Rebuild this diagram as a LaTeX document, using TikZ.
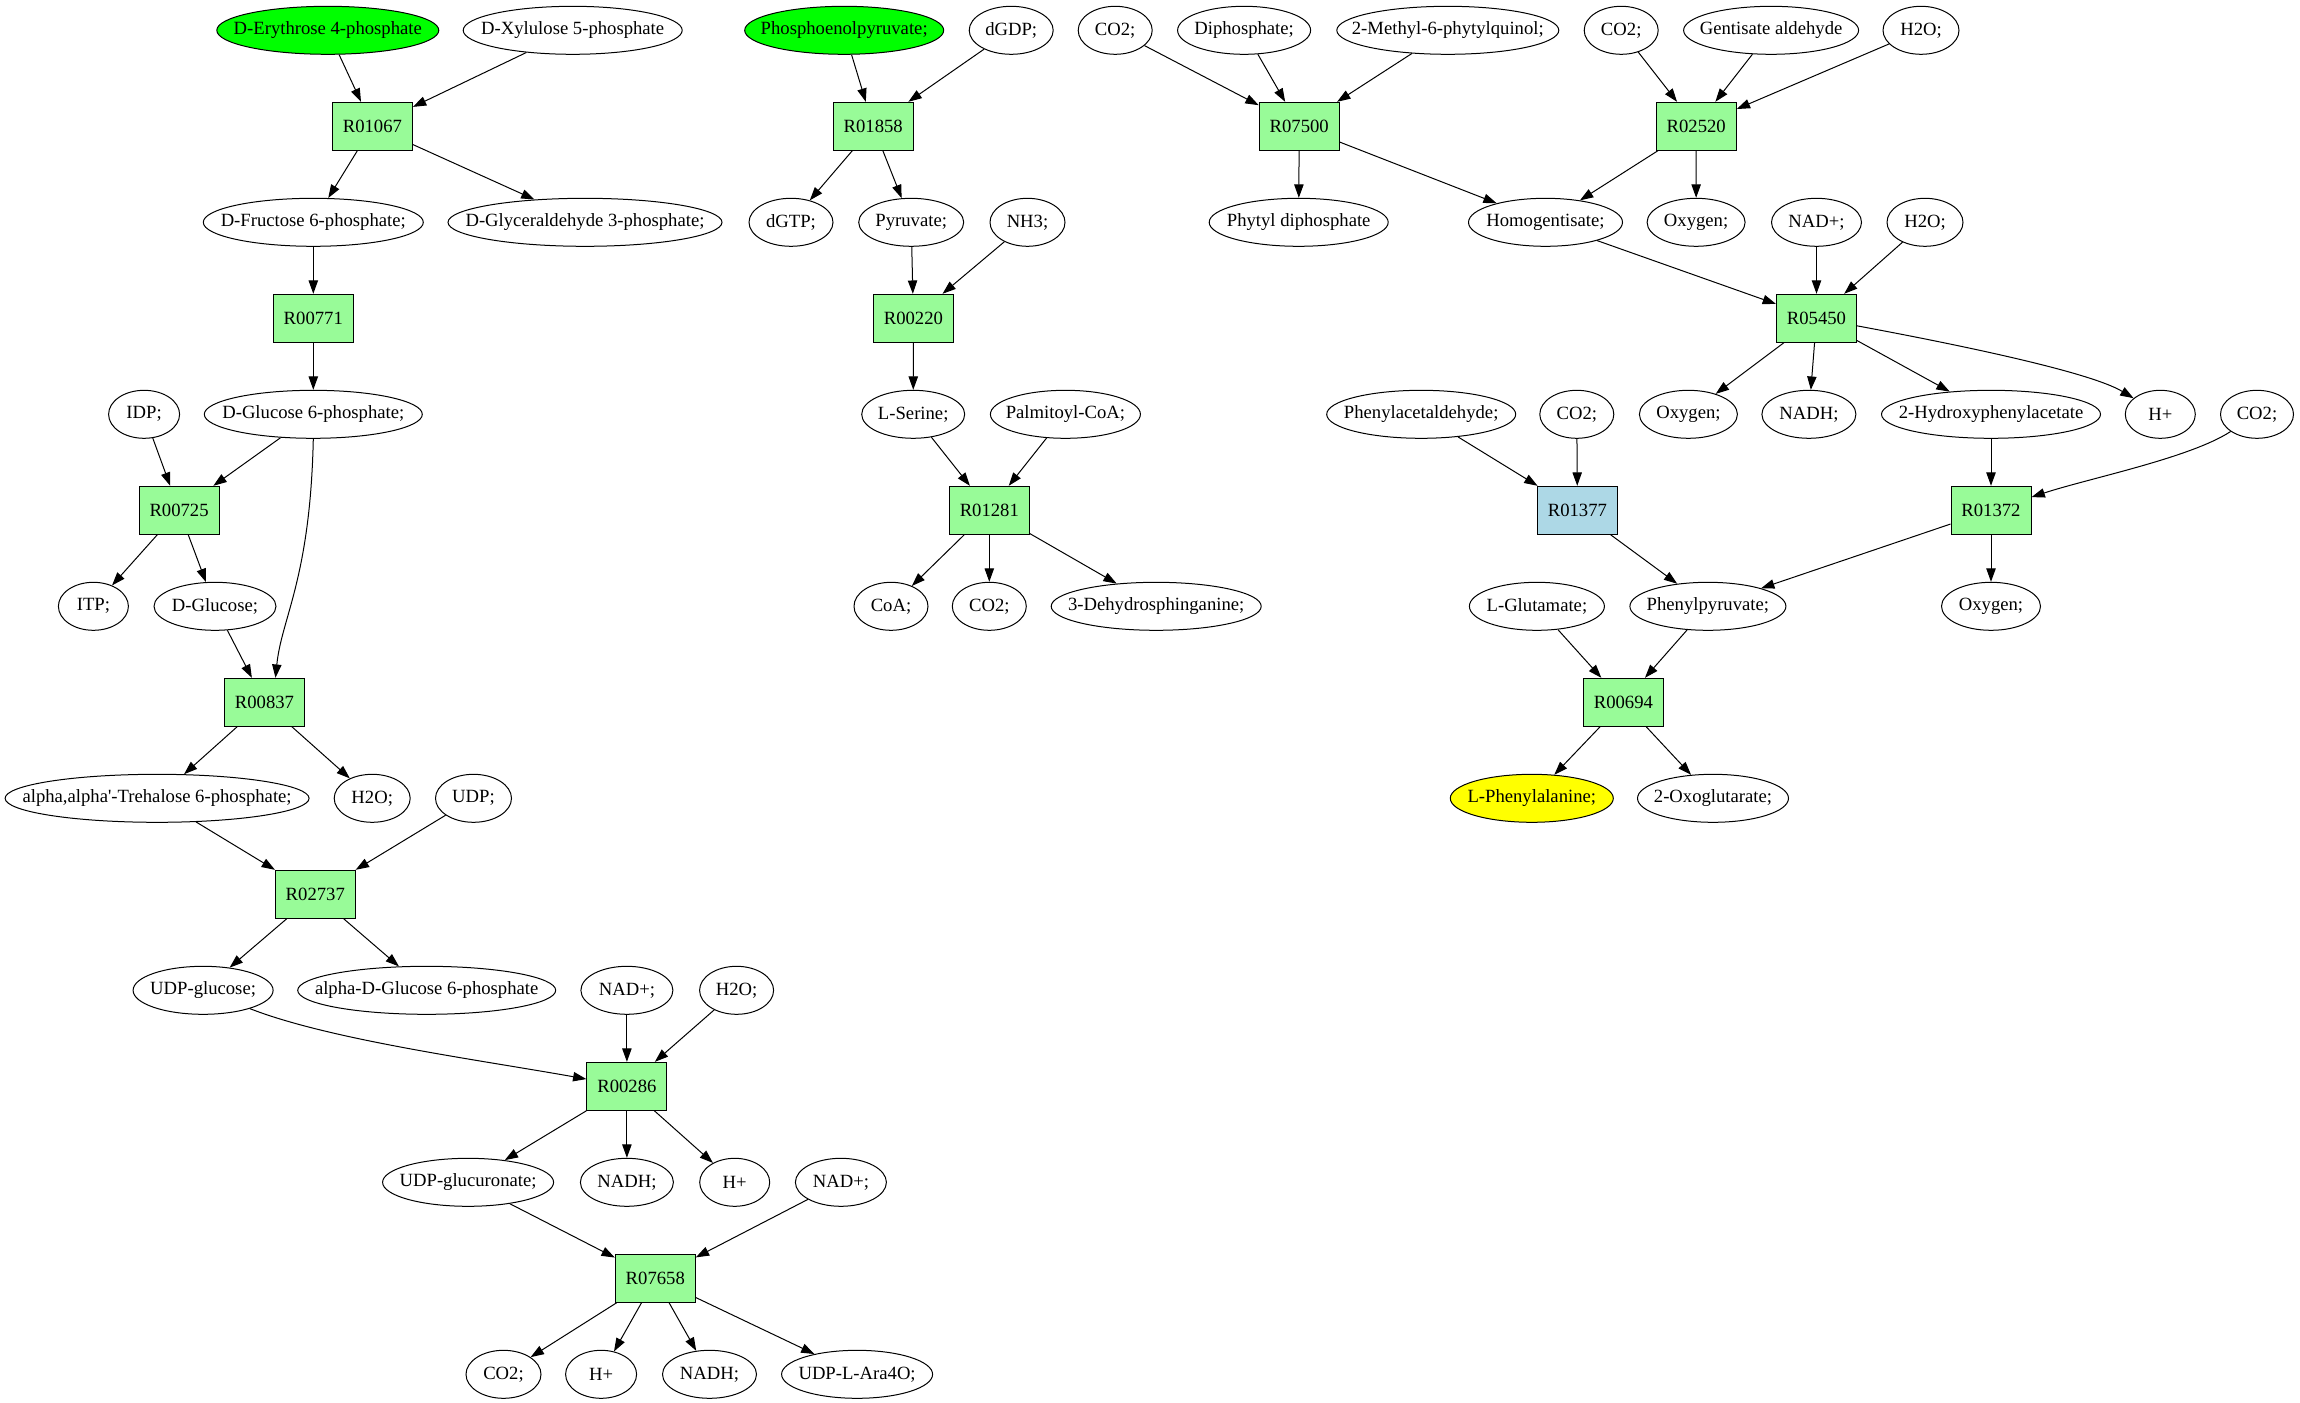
\documentclass[tikz,border=0pt]{standalone}
\usepackage{fontspec}
\setmainfont{Liberation Serif}
\usetikzlibrary{arrows.meta,shapes.geometric,calc}
\definecolor{pgreen}{HTML}{98FB98}
\definecolor{fgreen}{HTML}{00FF00}
\definecolor{lblue}{HTML}{ADD8E6}
\definecolor{fyellow}{HTML}{FFFF00}
\newcommand\mb[1]{\makebox[0pt]{#1}}
\begin{document}
\begin{tikzpicture}[x=0.75pt,y=-0.75pt,
  every node/.style={font=\fontsize{14}{16}\selectfont},
  met/.style={ellipse,draw,line width=0.75pt,minimum height=36pt,inner sep=0pt},
  ew/.style={minimum width=#1*0.75pt},
  rxn/.style={rectangle,draw,line width=0.75pt,fill=pgreen,minimum width=60pt,minimum height=36pt,inner sep=0pt},
  ar/.style={-{Triangle[length=10pt,width=7pt]},line width=0.75pt}]
\useasboundingbox (0,0) rectangle (2300,1403);
% row 1
\node[met,ew=222,fill=fgreen] (ery) at (327.8,30.3) {\mb{D-Erythrose 4-phosphate}};
\node[met,ew=219] (xyl) at (572.7,30.3) {\mb{D-Xylulose 5-phosphate}};
\node[met,ew=199,fill=fgreen] (pep) at (844.2,30.3) {\mb{Phosphoenolpyruvate;}};
\node[met,ew=84] (dgdp) at (1011.2,30.3) {\mb{dGDP;}};
\node[met,ew=74] (co2a) at (1115.2,30.3) {\mb{CO2;}};
\node[met,ew=133] (diph) at (1244.1,30.3) {\mb{Diphosphate;}};
\node[met,ew=222] (mpq) at (1447.8,30.3) {\mb{2-Methyl-6-phytylquinol;}};
\node[met,ew=74] (co2b) at (1621.2,30.3) {\mb{CO2;}};
\node[met,ew=175] (gald) at (1771.1,30.3) {\mb{Gentisate aldehyde}};
\node[met,ew=76] (h2oa) at (1921,30.3) {\mb{H2O;}};
% row 2
\node[rxn] (r01067) at (372.4,126.3) {R01067};
\node[rxn] (r01858) at (873.2,126.3) {R01858};
\node[rxn] (r07500) at (1299.2,126.3) {R07500};
\node[rxn] (r02520) at (1696.2,126.3) {R02520};
% row 3
\node[met,ew=220] (fru) at (313.3,222.3) {\mb{D-Fructose 6-phosphate;}};
\node[met,ew=274] (gly) at (585,222.3) {\mb{D-Glyceraldehyde 3-phosphate;}};
\node[met,ew=84] (dgtp) at (791,222.3) {\mb{dGTP;}};
\node[met,ew=105] (pyr) at (911.2,222.3) {\mb{Pyruvate;}};
\node[met,ew=75] (nh3) at (1027.5,222.3) {\mb{NH3;}};
\node[met,ew=179] (phyt) at (1298.7,222.3) {\mb{Phytyl diphosphate}};
\node[met,ew=154] (hom) at (1545.5,222.3) {\mb{Homogentisate;}};
\node[met,ew=98] (oxa) at (1696.1,222.3) {\mb{Oxygen;}};
\node[met,ew=90] (nada) at (1816.5,222.3) {\mb{NAD+;}};
\node[met,ew=76] (h2ob) at (1925,222.3) {\mb{H2O;}};
% row 4
\node[rxn] (r00771) at (313.3,318.3) {R00771};
\node[rxn] (r00220) at (913.4,318.3) {R00220};
\node[rxn] (r05450) at (1816.5,318.3) {R05450};
% row 5
\node[met,ew=71] (idp) at (144.1,414.3) {\mb{IDP;}};
\node[met,ew=218] (g6p) at (313.3,414.3) {\mb{D-Glucose 6-phosphate;}};
\node[met,ew=103] (ser) at (913.2,414.3) {\mb{L-Serine;}};
\node[met,ew=150] (pal) at (1065.4,414.3) {\mb{Palmitoyl-CoA;}};
\node[met,ew=189] (pacald) at (1421.2,414.3) {\mb{Phenylacetaldehyde;}};
\node[met,ew=74] (co2c) at (1576.8,414.3) {\mb{CO2;}};
\node[met,ew=98] (oxb) at (1688.4,414.3) {\mb{Oxygen;}};
\node[met,ew=94] (nadha) at (1808.9,414.3) {\mb{NADH;}};
\node[met,ew=219] (hpa) at (1991,414.3) {\mb{2-Hydroxyphenylacetate}};
\node[met,ew=70] (hpla) at (2160.3,414.3) {\mb{H+}};
\node[met,ew=73] (co2d) at (2257,414.3) {\mb{CO2;}};
% row 6
\node[rxn] (r00725) at (179.1,510.3) {R00725};
\node[rxn] (r01281) at (989.3,510.3) {R01281};
\node[rxn,fill=lblue] (r01377) at (1577.4,510.3) {R01377};
\node[rxn] (r01372) at (1991,510.3) {R01372};
% row 7
\node[met,ew=70] (itp) at (93.4,606.3) {\mb{ITP;}};
\node[met,ew=122] (glc) at (215,606.3) {\mb{D-Glucose;}};
\node[met,ew=74] (coa) at (891,606.3) {\mb{CoA;}};
\node[met,ew=74] (co2e) at (989.3,606.3) {\mb{CO2;}};
\node[met,ew=210] (dhs) at (1156.2,606.3) {\mb{3-Dehydrosphinganine;}};
\node[met,ew=135] (glu) at (1536.9,606.3) {\mb{L-Glutamate;}};
\node[met,ew=156] (ppy) at (1707.9,606.3) {\mb{Phenylpyruvate;}};
\node[met,ew=99] (oxc) at (1991,606.3) {\mb{Oxygen;}};
% row 8
\node[rxn] (r00837) at (264.5,702.3) {R00837};
\node[rxn] (r00694) at (1623.4,702.3) {R00694};
% row 9
\node[met,ew=304] (t6p) at (157.1,798.3) {\mb{alpha,alpha\textquotesingle-Trehalose 6-phosphate;}};
\node[met,ew=76] (h2oc) at (372.2,798.3) {\mb{H2O;}};
\node[met,ew=76] (udp) at (473.5,798.3) {\mb{UDP;}};
\node[met,ew=163,fill=fyellow] (phe) at (1531.8,798.3) {\mb{L-Phenylalanine;}};
\node[met,ew=151] (oxg) at (1713,798.3) {\mb{2-Oxoglutarate;}};
% row 10
\node[rxn] (r02737) at (315.3,894.3) {R02737};
% row 11
\node[met,ew=140] (udpg) at (203.1,990.3) {\mb{UDP-glucose;}};
\node[met,ew=258] (ag6p) at (426.7,990.3) {\mb{alpha-D-Glucose 6-phosphate}};
\node[met,ew=92] (nadb) at (626.9,990.3) {\mb{NAD+;}};
\node[met,ew=74] (h2od) at (736.6,990.3) {\mb{H2O;}};
% row 12
\node[rxn] (r00286) at (626.9,1086.3) {R00286};
% row 13
\node[met,ew=171] (udpga) at (468.1,1182.3) {\mb{UDP-glucuronate;}};
\node[met,ew=93] (nadhb) at (626.9,1182.3) {\mb{NADH;}};
\node[met,ew=70] (hplb) at (734.7,1182.3) {\mb{H+}};
\node[met,ew=91] (nadc) at (840.9,1182.3) {\mb{NAD+;}};
% row 14
\node[rxn] (r07658) at (655.3,1278.3) {R07658};
% row 15
\node[met,ew=75] (co2f) at (503.5,1374.3) {\mb{CO2;}};
\node[met,ew=71] (hplc) at (601.1,1374.3) {\mb{H+}};
\node[met,ew=94] (nadhc) at (709.5,1374.3) {\mb{NADH;}};
\node[met,ew=151] (ara) at (857.1,1374.3) {\mb{UDP-L-Ara4O;}};
% edges: left column
\draw[ar] (ery) -- (r01067);
\draw[ar] (xyl) -- (r01067);
\draw[ar] (r01067) -- (fru);
\draw[ar] (r01067) -- (gly);
\draw[ar] (fru) -- (r00771);
\draw[ar] (r00771) -- (g6p);
\draw[ar] (idp) -- (r00725);
\draw[ar] (g6p) -- (r00725);
\draw[ar] (r00725) -- (itp);
\draw[ar] (r00725) -- (glc);
\draw[ar] (glc) -- (r00837);
\coordinate (r00837in) at ($(r00837.north)+(11,0)$);
\draw[ar] (g6p.south) .. controls +(-3,140) and +(6,-60) .. (r00837in);
\draw[ar] (r00837) -- (t6p);
\draw[ar] (r00837) -- (h2oc);
\draw[ar] (t6p) -- (r02737);
\draw[ar] (udp) -- (r02737);
\draw[ar] (r02737) -- (udpg);
\draw[ar] (r02737) -- (ag6p);
\draw[ar] (udpg) .. controls (330,1040) and (480,1060) .. (r00286);
\draw[ar] (nadb) -- (r00286);
\draw[ar] (h2od) -- (r00286);
\draw[ar] (r00286) -- (udpga);
\draw[ar] (r00286) -- (nadhb);
\draw[ar] (r00286) -- (hplb);
\draw[ar] (udpga) -- (r07658);
\draw[ar] (nadc) -- (r07658);
\draw[ar] (r07658) -- (co2f);
\draw[ar] (r07658) -- (hplc);
\draw[ar] (r07658) -- (nadhc);
\draw[ar] (r07658) -- (ara);
% middle column
\draw[ar] (pep) -- (r01858);
\draw[ar] (dgdp) -- (r01858);
\draw[ar] (r01858) -- (dgtp);
\draw[ar] (r01858) -- (pyr);
\draw[ar] (pyr) -- (r00220);
\draw[ar] (nh3) -- (r00220);
\draw[ar] (r00220) -- (ser);
\draw[ar] (ser) -- (r01281);
\draw[ar] (pal) -- (r01281);
\draw[ar] (r01281) -- (coa);
\draw[ar] (r01281) -- (co2e);
\draw[ar] (r01281) -- (dhs);
% right part
\draw[ar] (co2a) -- (r07500);
\draw[ar] (diph) -- (r07500);
\draw[ar] (mpq) -- (r07500);
\draw[ar] (r07500) -- (phyt);
\draw[ar] (r07500) -- (hom);
\draw[ar] (co2b) -- (r02520);
\draw[ar] (gald) -- (r02520);
\draw[ar] (h2oa) -- (r02520);
\draw[ar] (r02520) -- (hom);
\draw[ar] (r02520) -- (oxa);
\draw[ar] (hom) -- (r05450);
\draw[ar] (nada) -- (r05450);
\draw[ar] (h2ob) -- (r05450);
\draw[ar] (r05450) -- (oxb);
\draw[ar] (r05450) -- (nadha);
\draw[ar] (r05450) -- (hpa);
\draw[ar] (r05450) .. controls (1960,345) and (2090,372) .. (hpla);
\draw[ar] (pacald) -- (r01377);
\draw[ar] (co2c) -- (r01377);
\draw[ar] (r01377) -- (ppy);
\draw[ar] (hpa) -- (r01372);
\draw[ar] (co2d) .. controls (2190,458) and (2090,478) .. (r01372);
\draw[ar] (r01372) -- (ppy);
\draw[ar] (r01372) -- (oxc);
\draw[ar] (glu) -- (r00694);
\draw[ar] (ppy) -- (r00694);
\draw[ar] (r00694) -- (phe);
\draw[ar] (r00694) -- (oxg);
\end{tikzpicture}
\end{document}
